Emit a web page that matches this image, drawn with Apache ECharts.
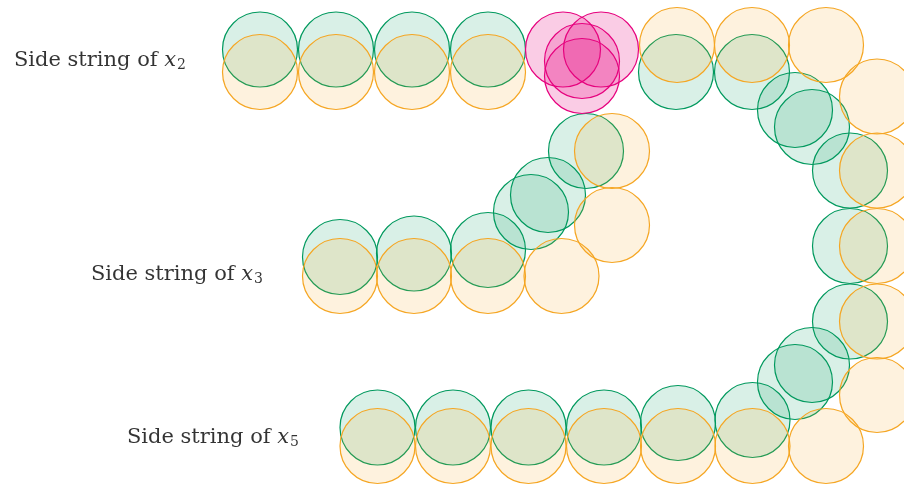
<!DOCTYPE html>
<html>
<head>
<meta charset="utf-8">
<script src="https://cdn.jsdelivr.net/npm/echarts@6/dist/echarts.min.js"></script>
<style>
html,body{margin:0;padding:0;background:#fff;}
#chart{width:904px;height:485px;}
</style>
</head>
<body>
<div id="chart"></div>
<script>
// Circle centres (x to the right, y downward), in picture units
var greenPoints = [
  [260,49.5],[336,49.5],[412,49.5],[488,49.5],
  [676,72],[752,72],[795,110],[812,127],[850,170.5],[850,246],[850,321.5],
  [812,365],[795,382],[752.5,420],[678,423],[604,427.5],[528.5,427.5],[453,427.5],[377.5,427.5],
  [340,257],[414,253.5],[488,250],[531,212],[548,195],[586,151]
];
var orangePoints = [
  [260,72],[336,72],[412,72],[488,72],
  [677,45],[752,45],[826,45],[877,96.5],[877,170.5],[877,246],[877,321.5],[877,395],
  [826,446],[752.5,446],[678,446],[604,446],[528.5,446],[453,446],[377.5,446],
  [340,276],[414,276],[488,276],[561.5,276],[612,225],[612,151]
];
var pinkPoints = [[563,49.5],[601,49.5],[582,61],[582,76]];
var stringNames = ['2','3','5'];
var labelPoints = [[186,61],[263,275],[299,438]];

var chart = echarts.init(document.getElementById('chart'));
function circles(name, data, stroke, fill){
  return {
    type:'scatter', name:name, data:data, symbol:'circle', symbolSize:75,
    itemStyle:{color:fill, borderColor:stroke, borderWidth:1.2, opacity:1},
    emphasis:{disabled:true}, silent:true, animation:false
  };
}
var serif = 'DejaVu Serif';
chart.setOption({
  animation:false,
  grid:{left:0,right:0,top:0,bottom:0},
  xAxis:{type:'value', min:0, max:904, show:false},
  yAxis:{type:'value', min:0, max:485, inverse:true, show:false},
  series:[
    circles('green', greenPoints, 'rgb(0,153,94)', 'rgba(0,153,94,0.15)'),
    circles('orange', orangePoints, 'rgb(245,166,35)', 'rgba(245,166,35,0.15)'),
    circles('pink', pinkPoints, 'rgb(230,0,126)', 'rgba(230,0,126,0.2)'),
    {
      type:'scatter', symbolSize:0, silent:true, animation:false,
      data: labelPoints.map(function(p,i){ return {value:p, sub:stringNames[i]}; }),
      label:{
        show:true, position:'left', distance:0,
        formatter:function(p){ return '{t|Side string of }{x|x}{s|' + p.data.sub + '}'; },
        rich:{
          t:{fontFamily:serif, fontSize:21, color:'#000'},
          x:{fontFamily:serif, fontStyle:'italic', fontSize:21, color:'#000'},
          s:{fontFamily:serif, fontSize:14, color:'#000', padding:[9,0,0,1]}
        }
      }
    }
  ]
});
</script>
</body>
</html>
